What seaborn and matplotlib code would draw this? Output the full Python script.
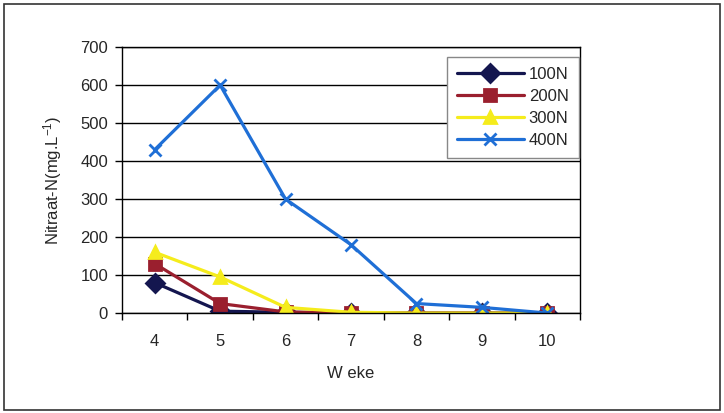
import numpy as np
import pandas as pd
import matplotlib
matplotlib.use('Agg')
import matplotlib.pyplot as plt
from matplotlib.patches import Rectangle
import seaborn as sns

# values
weeks = [4, 5, 6, 7, 8, 9, 10]
n100 = [80, 5, 2, 0, 0, 0, 0]
n200 = [130, 25, 3, 0, 0, 0, 0]
n300 = [160, 95, 15, 2, 0, 0, 0]
n400 = [430, 600, 300, 180, 25, 15, 0]
series = ['100N', '200N', '300N', '400N']

data = pd.DataFrame({
    'Week': weeks * 4,
    'Nitraat': n100 + n200 + n300 + n400,
    'Serie': np.repeat(series, len(weeks)),
})

sns.set_style('white')
plt.rcParams['font.family'] = ['Liberation Sans', 'DejaVu Sans']

fig = plt.figure(figsize=(7.24, 4.13), dpi=100)
ax = fig.add_axes([0.1685, 0.242, 0.8010 - 0.1685, 0.886 - 0.242])

colors = ['#14164f', '#9a1f2e', '#f5ec1c', '#1f6fd6']
sns.pointplot(data=data, x='Week', y='Nitraat', hue='Serie', ax=ax,
              palette=colors, markers=['D', 's', '^', 'x'],
              linestyles='-', errorbar=None, markersize=9, linewidth=2.3,
              markeredgewidth=2)

fs = 12
ax.set_ylim(0, 700)
ax.set_yticks(range(0, 701, 100))
ax.set_xlim(-0.5, len(weeks) - 0.5)
ax.yaxis.grid(True, color='black', linewidth=1)
ax.set_axisbelow(True)
for s in ax.spines.values():
    s.set_visible(True)
    s.set_color('black')
    s.set_linewidth(1)
ax.tick_params(axis='y', which='major', direction='out', length=5, width=1,
               labelsize=fs, left=True, color='black', pad=5)
ax.tick_params(axis='x', which='major', length=0, labelsize=fs, pad=15)
ax.set_xticks(np.arange(-0.5, len(weeks)), minor=True)
ax.tick_params(axis='x', which='minor', direction='out', length=5, width=1,
               bottom=True, color='black')

ax.set_xlabel('W eke', fontsize=fs, labelpad=12)
ax.set_ylabel('Nitraat-N(mg.L$\\mathregular{^{-1}}$)', fontsize=fs, labelpad=12)

leg = ax.legend(loc='upper left', bbox_to_anchor=(0.71, 0.962), fontsize=fs,
                frameon=True, fancybox=False, edgecolor='#888888',
                handlelength=4.0, borderpad=0.6, labelspacing=0.42,
                handletextpad=0.3, framealpha=1, borderaxespad=0)
leg.get_frame().set_linewidth(1)

fig.patches.append(Rectangle((0.006, 0.008), 0.988, 0.982, transform=fig.transFigure,
                             fill=False, edgecolor='#333333', linewidth=1.2))

fig.savefig('out.png', dpi=100)
